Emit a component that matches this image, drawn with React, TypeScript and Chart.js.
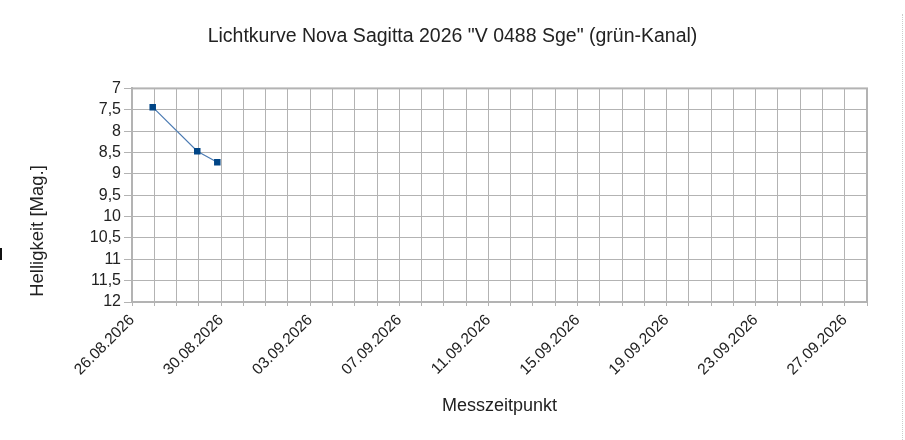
import React, { useEffect, useRef } from 'react';
import { Chart, registerables } from 'chart.js';

Chart.register(...registerables);

// days after 26.08.2026 (0:00) for each measurement
const dayOffsets = [0.93, 2.93, 3.83];
const magnitudes = [7.44, 8.47, 8.73];
const startDate = new Date(2026, 7, 26);
const axisDays = 33;
const labelEvery = 4;
const yTitle = 'Helligkeit [Mag.]';

const fmtDate = (d: number) => {
  const dt = new Date(startDate.getTime());
  dt.setDate(dt.getDate() + d);
  const dd = String(dt.getDate()).padStart(2, '0');
  const mm = String(dt.getMonth() + 1).padStart(2, '0');
  return `${dd}.${mm}.${dt.getFullYear()}`;
};

const GRID = '#b3b3b3';
const FONT = "'Liberation Sans', Arial, sans-serif";

// grey frame round the plot area + the y title, which sits lower than centre
const framePlugin = {
  id: 'frame',
  beforeDatasetsDraw(chart: any) {
    const { ctx, chartArea: a } = chart;
    ctx.save();
    ctx.strokeStyle = GRID;
    ctx.lineWidth = 2;
    ctx.strokeRect(a.left, a.top, a.right - a.left, a.bottom - a.top);
    ctx.translate(38, 231);
    ctx.rotate(-Math.PI / 2);
    ctx.fillStyle = '#222';
    ctx.font = `18.5px ${FONT}`;
    ctx.textAlign = 'center';
    ctx.textBaseline = 'middle';
    ctx.fillText(yTitle, 0, 0);
    ctx.restore();
  },
};

export default function App() {
  const canvasRef = useRef<HTMLCanvasElement>(null);
  useEffect(() => {
    document.body.style.margin = '0';
    const ctx = canvasRef.current!.getContext('2d')!;
    const chart = new Chart(ctx, {
      type: 'line',
      data: {
        datasets: [{
          label: 'grün',
          data: dayOffsets.map((x, i) => ({ x, y: magnitudes[i] })),
          borderColor: '#4d7cb3',
          borderWidth: 1.2,
          pointStyle: 'rect',
          pointRadius: 4.6,
          pointBackgroundColor: '#004586',
          pointBorderColor: '#004586',
          pointBorderWidth: 0,
        }],
      },
      options: {
        responsive: false,
        animation: false,
        layout: { padding: 0 },
        plugins: {
          legend: { display: false },
          tooltip: { enabled: false },
          title: {
            display: true,
            text: 'Lichtkurve Nova Sagitta 2026 "V 0488 Sge" (grün-Kanal)',
            color: '#222',
            font: { family: FONT, size: 19.5, weight: 'normal' },
            padding: { top: 25, bottom: 40 },
          },
        },
        scales: {
          x: {
            type: 'linear',
            min: 0,
            max: axisDays,
            afterFit: (s: any) => { s.height = 138; },
            afterBuildTicks: (s: any) => {
              s.ticks = Array.from({ length: axisDays + 1 }, (_, i) => ({ value: i }));
            },
            ticks: {
              autoSkip: false,
              minRotation: 45,
              maxRotation: 45,
              padding: 5,
              color: '#222',
              font: { family: FONT, size: 15.5 },
              callback: (v: any) => (Number(v) % labelEvery === 0 ? fmtDate(Number(v)) : ''),
            },
            grid: { color: GRID, tickColor: GRID, tickLength: 4 },
            border: { color: GRID, width: 2 },
            title: {
              display: true,
              text: 'Messzeitpunkt',
              color: '#222',
              font: { family: FONT, size: 18 },
              padding: { top: 0, bottom: 23 },
            },
          },
          y: {
            reverse: true,
            min: 7,
            max: 12,
            afterFit: (s: any) => { s.width = 132; },
            ticks: {
              stepSize: 0.5,
              autoSkip: false,
              padding: 3,
              color: '#222',
              font: { family: FONT, size: 16 },
              callback: (v: any) => String(v).replace('.', ','),
            },
            grid: { color: GRID, tickColor: GRID, tickLength: 8 },
            border: { color: GRID, width: 2 },
          },
          // empty right-hand spacer so the plot ends where the original does
          yRight: {
            position: 'right',
            min: 0,
            max: 1,
            afterFit: (s: any) => { s.width = 38; },
            ticks: { display: false },
            grid: { display: false },
            border: { display: false },
          },
        },
      },
      plugins: [framePlugin],
    });
    return () => chart.destroy();
  }, []);
  return (
    <div style={{ position: 'relative', width: 905, height: 440 }}>
      <canvas ref={canvasRef} width={905} height={440} aria-label="Lichtkurve Nova Sagitta"></canvas>
      <div style={{ position: 'absolute', left: 902, top: 14, height: 426, borderLeft: '1px dotted #ccc' }} />
      <div style={{ position: 'absolute', left: 0, top: 248, width: 2, height: 12, background: '#111' }} />
    </div>
  );
}
